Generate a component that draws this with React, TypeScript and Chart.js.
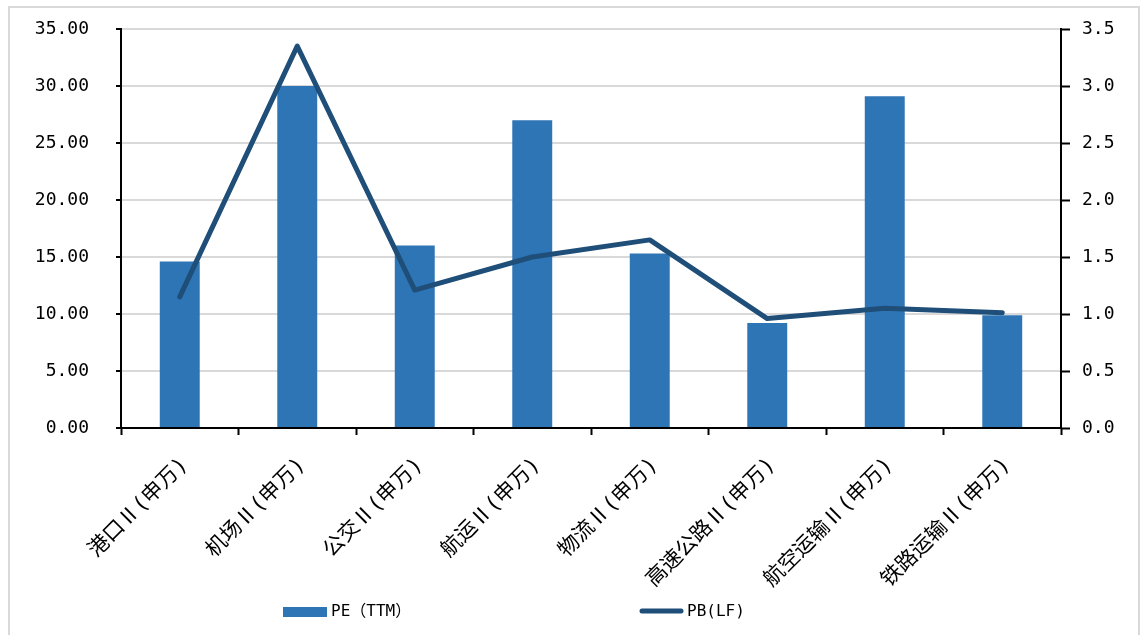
import React, { useEffect, useRef } from "react";
import { Chart, registerables } from "chart.js";

Chart.register(...registerables);

const categories = [
  "港口Ⅱ(申万)",
  "机场Ⅱ(申万)",
  "公交Ⅱ(申万)",
  "航运Ⅱ(申万)",
  "物流Ⅱ(申万)",
  "高速公路Ⅱ(申万)",
  "航空运输Ⅱ(申万)",
  "铁路运输Ⅱ(申万)",
];
const peValues = [14.6, 30.0, 16.0, 27.0, 15.3, 9.2, 29.1, 9.9];
const pbValues = [1.15, 3.35, 1.21, 1.5, 1.65, 0.96, 1.05, 1.01];
const seriesLabels = ["PE（TTM）", "PB(LF)"];

const BAR_COLOR = "#2e75b6";
const LINE_COLOR = "#1f4e79";
const MONO = '"DejaVu Sans Mono", "Noto Sans CJK SC", monospace';

const legendPlugin = {
  id: "bottomLegend",
  afterDraw(chart: any) {
    const ctx = chart.ctx as CanvasRenderingContext2D;
    const ds = chart.data.datasets;
    const y = 604;
    ctx.save();
    ctx.font = `16px ${MONO}`;
    ctx.textBaseline = "middle";
    // bar item
    ctx.fillStyle = ds[1].backgroundColor;
    ctx.fillRect(273, y - 5, 44, 10);
    ctx.fillStyle = "#000";
    ctx.fillText(ds[1].label, 321, y);
    // line item
    ctx.strokeStyle = ds[0].borderColor;
    ctx.lineWidth = 5;
    ctx.lineCap = "round";
    ctx.beginPath();
    ctx.moveTo(632, y - 1);
    ctx.lineTo(671, y - 1);
    ctx.stroke();
    ctx.fillStyle = "#000";
    ctx.fillText(ds[0].label, 677, y);
    ctx.restore();
  },
};

export default function App() {
  const ref = useRef<HTMLCanvasElement>(null);
  useEffect(() => {
    document.documentElement.style.overflow = "hidden";
    const chart = new Chart(ref.current as HTMLCanvasElement, {
      type: "bar",
      data: {
        labels: categories,
        datasets: [
          {
            type: "line",
            label: seriesLabels[1],
            data: pbValues,
            yAxisID: "y1",
            borderColor: LINE_COLOR,
            backgroundColor: LINE_COLOR,
            borderWidth: 5,
            pointRadius: 0,
            tension: 0,
            borderCapStyle: "round",
            borderJoinStyle: "round",
            order: 0,
          } as any,
          {
            type: "bar",
            label: seriesLabels[0],
            data: peValues,
            yAxisID: "y",
            backgroundColor: BAR_COLOR,
            borderWidth: 0,
            categoryPercentage: 1,
            barPercentage: 0.34,
            order: 1,
          },
        ],
      },
      options: {
        responsive: false,
        animation: false,
        layout: { padding: { top: 21, bottom: 22, left: 0, right: 0 } },
        plugins: {
          legend: { display: false },
          tooltip: { enabled: false },
        },
        scales: {
          x: {
            offset: true,
            grid: {
              offset: true,
              drawOnChartArea: false,
              tickLength: 7,
              tickColor: "#000",
              tickWidth: 2,
            },
            border: { color: "#000", width: 2 },
            ticks: {
              autoSkip: false,
              maxRotation: 45,
              minRotation: 45,
              padding: 18,
              labelOffset: 5,
              color: "#000",
              font: { family: MONO, size: 21 },
            },
            afterFit: (s: any) => {
              s.height = 185;
            },
          },
          y: {
            position: "left",
            min: 0,
            max: 35,
            ticks: {
              stepSize: 5,
              padding: 27,
              color: "#000",
              font: { family: MONO, size: 18 },
              callback: (v: any) => Number(v).toFixed(2),
            },
            grid: {
              color: "#d9d9d9",
              lineWidth: 2,
              tickLength: 5,
              tickColor: "#000",
              tickWidth: 2,
            },
            border: { color: "#000", width: 2 },
            afterFit: (s: any) => {
              s.width = 111;
              s.paddingTop = 0;
              s.paddingBottom = 0;
            },
          },
          y1: {
            position: "right",
            min: 0,
            max: 3.5,
            ticks: {
              stepSize: 0.5,
              padding: 12,
              color: "#000",
              font: { family: MONO, size: 18 },
              callback: (v: any) => Number(v).toFixed(1),
            },
            grid: {
              drawOnChartArea: false,
              tickLength: 9,
              tickColor: "#000",
              tickWidth: 2,
            },
            border: { color: "#000", width: 2 },
            afterFit: (s: any) => {
              s.width = 77;
              s.paddingTop = 0;
              s.paddingBottom = 0;
            },
          },
        },
      },
      plugins: [legendPlugin],
    });
    return () => chart.destroy();
  }, []);

  return (
    <div
      style={{
        position: "absolute",
        left: 8,
        top: 6,
        width: 1132,
        height: 640,
        border: "2px solid #d9d9d9",
        boxSizing: "border-box",
        background: "#fff",
      }}
    >
      <canvas ref={ref} width={1128} height={627} style={{ display: "block", width: 1128, height: 627 }} />
    </div>
  );
}
